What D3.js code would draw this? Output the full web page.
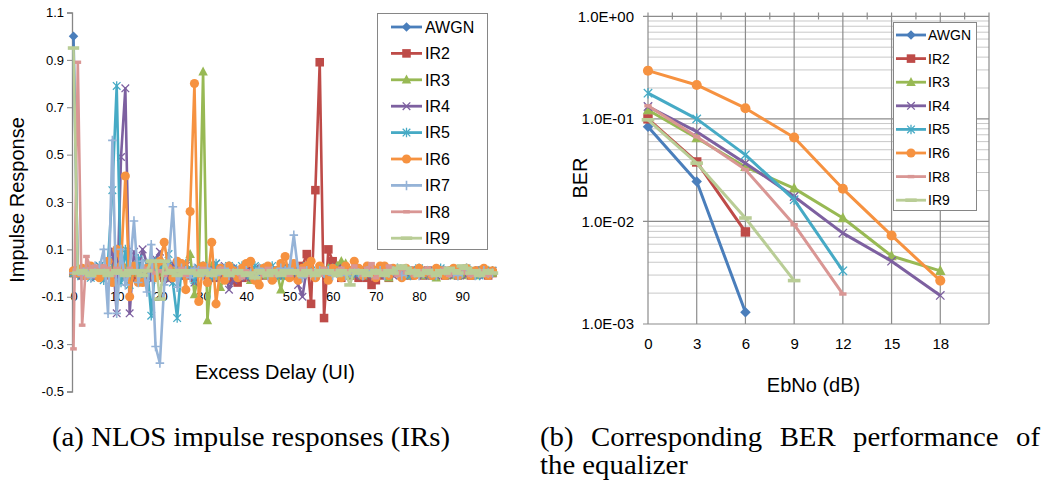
<!DOCTYPE html>
<html><head><meta charset="utf-8">
<script src="https://cdn.jsdelivr.net/npm/d3@7"></script>
<style>body{margin:0;background:#fff} svg{display:block} .sans{font-family:"Liberation Sans",Arial,sans-serif}</style>
</head><body><svg id="c" width="1045" height="483"></svg>
<script>
// ---------- Data: (a) impulse responses ----------
const seriesNames = ["AWGN","IR2","IR3","IR4","IR5","IR6","IR7","IR8","IR9"];
const leftYTicks = [-0.5,-0.3,-0.1,0.1,0.3,0.5,0.7,0.9,1.1];
const leftXTicks = [0,10,20,30,40,50,60,70,80,90];
const irAWGN = [1.0,0,0,0,0,0,0,0,0,0, 0,0,0,0,0,0,0,0,0,0, 0,0,0,0,0,0,0,0,0,0, 0,0,0,0,0,0,0,0,0,0,
  0,0,0,0,0,0,0,0,0,0, 0,0,0,0,0,0,0,0,0,0, 0,0,0,0,0,0,0,0,0,0, 0,0,0,0,0,0,0,0,0,0,
  0,0,0,0,0,0,0,0,0,0, 0,0,0,0,0,0,0,0];
const irIR2 = [0,0.01,-0.01,0.01,0,-0.01,0.01,0,-0.01,0.01,
  -0.02,0.02,-0.01,0.01,-0.02,0.01,0,-0.01,0.02,-0.01,
  0.01,-0.02,0.01,0,-0.01,0.02,-0.01,0.01,-0.02,0.01,
  0,-0.01,0.02,-0.02,0.01,-0.01,0,-0.03,-0.04,-0.02,
  0.01,-0.02,0.01,0,-0.01,0.01,-0.02,0.01,-0.01,0.02,
  -0.01,0.02,-0.02,0.03,0.08,-0.13,0.35,0.89,-0.19,0.10,
  0.05,0.03,-0.02,0.02,-0.01,0.01,-0.02,0.01,-0.02,-0.05,
  -0.03,-0.01,0.01,-0.02,0.01,0,-0.01,0.01,-0.01,0.01,
  0,-0.01,0.01,-0.01,0,0.01,-0.01,0,0.01,-0.01,
  0,0.01,-0.01,0,0.01,0,-0.01,0];
const irIR3 = [0,0.01,0,-0.01,0.01,0,-0.01,0.01,0,0.02,
  -0.01,0.01,0.02,-0.01,0.01,0,-0.02,0.01,0.02,-0.01,
  0.01,0,-0.02,0.01,0.02,0.01,0.03,0.08,-0.09,0.0,
  0.85,-0.20,0.03,0.01,-0.06,-0.02,0.02,0.01,-0.01,0.01,
  0,-0.03,0.01,0.02,-0.01,0,0.02,0.01,-0.07,0.01,
  0.02,0,0.02,-0.01,0.01,0,-0.01,0.01,0,0.02,
  0.01,0.03,0.05,0.04,-0.01,0.01,0,-0.01,0.01,0,
  -0.01,0.01,0,-0.02,0.01,0,0.01,-0.01,0,0.01,
  0,-0.01,0.01,0,-0.02,0.01,0,-0.01,0.01,0,
  -0.01,0.01,0,-0.01,0.01,0,0.01,0];
const irIR4 = [0,0.01,-0.01,0.02,0.01,-0.02,0.03,0.02,0.05,0.10,
  -0.17,0.49,0.78,-0.17,0.09,0.02,0.10,0.04,-0.03,0.06,
  0.09,0.02,-0.03,0.04,0.02,-0.02,0.03,0.01,-0.04,0.02,
  0.01,-0.03,0.02,0.04,-0.02,0.03,-0.07,-0.03,0.02,0.01,
  -0.02,0.01,0.02,-0.01,0.01,0.02,-0.02,0.01,0,0.02,
  -0.01,0.01,-0.05,-0.10,0.02,0.01,-0.01,0.02,0,-0.01,
  0.01,0.02,-0.01,0.01,0,-0.01,0.01,0.02,-0.01,0,
  0.01,-0.01,0,0.01,-0.01,0,0.01,0,-0.01,0.01,
  0,-0.01,0.01,0,-0.01,0.01,0,0.01,-0.01,0,
  0.01,-0.01,0,0.01,0,-0.01,0,0.01];
const irIR5 = [0,-0.01,0.01,0.02,-0.02,0.01,0.03,-0.03,0.05,0.35,
  0.79,-0.04,0.10,-0.05,0.03,0.06,-0.02,0.04,-0.18,0.05,
  0.02,0.03,0.08,-0.04,-0.19,0.02,0.04,0.01,-0.03,0.02,
  0.03,0.01,-0.02,0.04,0.02,-0.01,0.03,0.02,0.01,0.03,
  0.02,-0.01,0.03,0.01,0.02,0,0.03,0.01,-0.01,0.02,
  0.01,0.02,-0.02,0.01,0.03,0.01,-0.01,0.02,0,0.01,
  0.02,0,-0.01,0.02,0.01,0,0.01,-0.01,0.02,0,
  0.01,0.02,0,-0.01,0.01,0.02,0,0.01,-0.01,0.01,
  0.02,0,0.01,-0.01,0.01,0.02,0,0.01,0,-0.01,
  0.01,0.02,0,0.01,-0.01,0.01,0,0.01];
const irIR6 = [0.01,0,0.02,-0.01,0.03,0.01,-0.02,0.02,0.05,-0.04,
  0.10,0.03,0.41,-0.10,0.03,-0.04,-0.04,0.02,0.03,-0.02,
  0.05,0.13,0.02,-0.02,0.05,0.04,-0.07,0.26,0.80,-0.12,
  0.03,-0.04,0.13,-0.13,0.02,-0.03,0.03,0.01,-0.02,0.02,
  0.04,0.05,-0.03,-0.05,0.02,0.03,-0.03,0.01,0.04,0.07,
  -0.02,0.04,-0.03,0.02,0.03,0.05,-0.02,0.03,0.01,-0.03,
  0.02,0.01,-0.02,0.03,0.01,0.05,0.02,-0.01,0.03,0.02,
  -0.02,0.03,0.03,-0.01,0.02,0.01,-0.02,0.02,0.01,-0.01,
  0.02,0,0.01,-0.01,0.02,0.01,-0.01,0.01,0.02,-0.01,
  0.01,0.02,-0.01,0.01,0,0.02,-0.01,0.01];
const irIR7 = [0,0.01,-0.01,0.02,-0.02,0.03,0.02,0.10,-0.17,0.56,
  -0.17,0.10,-0.05,0.01,0.22,-0.04,0.05,-0.08,0.12,-0.31,
  -0.38,-0.05,0.05,0.28,-0.06,0.02,0.01,-0.02,0.02,0.01,
  -0.01,0.02,0,-0.01,0.01,0.02,-0.01,0,0.01,-0.01,
  0.01,0,-0.01,0.02,0,-0.01,0.01,0,0.02,0.01,
  0.02,0.16,0.01,-0.02,0.01,0,-0.01,0.01,0,0.01,
  -0.01,0,0.01,-0.01,0,0.01,0,-0.01,0.01,0,
  0,0.01,-0.01,0,0.01,0,-0.01,0,0.01,0,
  -0.01,0,0.01,0,-0.01,0,0.01,0,0,-0.01,
  0,0.01,0,-0.01,0,0.01,0,0];
const irIR8 = [-0.32,0.89,-0.22,0.07,0.02,0.03,0.01,0.03,0.02,-0.01,
  0.02,0.01,-0.01,0.02,0,0.01,-0.01,0.02,0.01,0,
  0.01,-0.01,0.02,0,0.01,0.02,-0.01,0.01,0,0.01,
  0.02,0,-0.01,0.01,0.02,0,-0.01,0.01,0,-0.02,
  0.01,-0.01,0,0.01,-0.01,0.02,0,-0.01,0.01,0,
  -0.01,0.01,0,0.02,-0.01,0.01,0,-0.01,0.02,0,
  0.01,-0.01,0.02,0,0.01,0.03,0.01,-0.01,0.02,0.04,
  -0.02,0.01,0,0.03,0.01,-0.01,0.02,0,0.01,-0.01,
  0.01,0,0.02,-0.01,0,0.01,0.02,-0.01,0,0.01,
  0.02,0,-0.01,0.01,0,0.01,-0.01,0];
const irIR9 = [0.95,0.0,0.01,0,-0.01,0.01,0,0.01,-0.01,0,
  0.01,0,-0.01,0.01,0,0.01,-0.01,0.01,0.05,0.05,
  -0.11,0.05,0.0,0.01,-0.01,0.01,0,0.01,0,-0.01,
  0.01,0,-0.01,0.01,0,0.01,-0.01,0,0.01,0,
  -0.01,0,-0.02,0.01,0,-0.01,0.01,0,-0.01,0.01,
  0,0.01,0,-0.01,0.01,0,-0.01,0.01,0,0.01,
  0,-0.01,0.01,0,-0.05,0.01,0,0.01,-0.01,0,
  0.01,0,-0.01,0.01,0,0.02,0.03,0.02,0,0.01,
  -0.01,0,0.01,0,-0.01,0.01,0,0.02,0.01,0,
  0.03,0.02,0,0.01,-0.01,0,0.01,0];

// ---------- Data: (b) BER ----------
const ebno = [0,3,6,9,12,15,18];
const berNames = ["AWGN","IR2","IR3","IR4","IR5","IR6","IR8","IR9"];
const berAWGN = [0.084,0.0245,0.0013];
const berIR2 = [0.10,0.038,0.0079];
const berIR3 = [0.122,0.065,0.034,0.021,0.0108,0.0046,0.0033];
const berIR4 = [0.132,0.075,0.037,0.0175,0.0077,0.0041,0.0019];
const berIR5 = [0.178,0.10,0.0446,0.0163,0.0033];
const berIR6 = [0.295,0.214,0.127,0.0658,0.0208,0.0073,0.00265];
const berIR8 = [0.134,0.067,0.032,0.0093,0.00196];
const berIR9 = [0.098,0.037,0.0108,0.00265];
const berYTicks = [1e-3,1e-2,1e-1,1];
const berYLabels = ["1.0E-03","1.0E-02","1.0E-01","1.0E+00"];
const berXTicks = [0,3,6,9,12,15,18];

const captionA = "(a) NLOS impulse responses (IRs)";
const captionB1 = "(b) Corresponding BER performance of";
const captionB2 = "the equalizer";

// ---------- styles ----------
const style = {
  AWGN:{color:"#4A7EBB", marker:"diamond"},
  IR2:{color:"#BE4B48", marker:"square"},
  IR3:{color:"#98B954", marker:"triangle"},
  IR4:{color:"#7D60A0", marker:"x"},
  IR5:{color:"#46AAC5", marker:"star"},
  IR6:{color:"#F69240", marker:"circle"},
  IR7:{color:"#95B3D7", marker:"plus"},
  IR8:{color:"#D99694", marker:"dash"},
  IR9:{color:"#B9CD96", marker:"longdash"}
};
const irData = {AWGN:irAWGN, IR2:irIR2, IR3:irIR3, IR4:irIR4, IR5:irIR5, IR6:irIR6, IR7:irIR7, IR8:irIR8, IR9:irIR9};
const berData = {AWGN:berAWGN, IR2:berIR2, IR3:berIR3, IR4:berIR4, IR5:berIR5, IR6:berIR6, IR8:berIR8, IR9:berIR9};

const svg = d3.select("#c");
const axisGray = "#868686";

function marker(g, type, x, y, c, s) {
  s = s || 1;
  switch (type) {
    case "diamond":
      g.append("path").attr("d", `M${x},${y-5*s}L${x+5*s},${y}L${x},${y+5*s}L${x-5*s},${y}Z`).attr("fill", c); break;
    case "square":
      g.append("rect").attr("x", x-4.5*s).attr("y", y-4.5*s).attr("width", 9*s).attr("height", 9*s).attr("fill", c); break;
    case "triangle":
      g.append("path").attr("d", `M${x},${y-5.5*s}L${x+5*s},${y+4*s}L${x-5*s},${y+4*s}Z`).attr("fill", c); break;
    case "x":
      g.append("path").attr("d", `M${x-4*s},${y-4*s}L${x+4*s},${y+4*s}M${x-4*s},${y+4*s}L${x+4*s},${y-4*s}`).attr("stroke", c).attr("stroke-width", 1.3).attr("fill","none"); break;
    case "star":
      g.append("path").attr("d", `M${x-4*s},${y-4*s}L${x+4*s},${y+4*s}M${x-4*s},${y+4*s}L${x+4*s},${y-4*s}M${x},${y-5*s}L${x},${y+5*s}`).attr("stroke", c).attr("stroke-width", 1.3).attr("fill","none"); break;
    case "circle":
      g.append("circle").attr("cx", x).attr("cy", y).attr("r", 4.8*s).attr("fill", c); break;
    case "plus":
      g.append("path").attr("d", `M${x-4.5*s},${y}L${x+4.5*s},${y}M${x},${y-5*s}L${x},${y+5*s}`).attr("stroke", c).attr("stroke-width", 1.6).attr("fill","none"); break;
    case "dash":
      g.append("rect").attr("x", x-3.5*s).attr("y", y-1.7).attr("width", 7*s).attr("height", 3.4).attr("fill", c); break;
    case "longdash":
      g.append("rect").attr("x", x-6*s).attr("y", y-1.8).attr("width", 12*s).attr("height", 3.6).attr("fill", c); break;
  }
}

// ================= (a) =================
const xL = d3.scaleLinear().domain([0, 97]).range([73.5, 492.5]);
const yL = d3.scaleLinear().domain([-0.5, 1.1]).range([391.5, 12.5]);
const gA = svg.append("g").attr("class", "sans");

gA.append("line").attr("x1", 72).attr("x2", 492.5).attr("y1", yL(0)).attr("y2", yL(0)).attr("stroke", axisGray);
const xAx = gA.append("g").attr("transform", `translate(0,${yL(0)})`)
  .call(d3.axisBottom(xL).tickValues(leftXTicks).tickSize(0).tickPadding(19).tickFormat(d => d));
xAx.select(".domain").remove();
xAx.selectAll("text").attr("font-size", 13).attr("font-family", "Liberation Sans, Arial, sans-serif").attr("fill", "#000");
const yAx = gA.append("g").attr("transform", "translate(72,0)")
  .call(d3.axisLeft(yL).tickValues(leftYTicks).tickSize(5).tickPadding(3).tickFormat(d => d.toFixed(1)));
yAx.select(".domain").attr("stroke", axisGray).attr("stroke-width", 1.3);
yAx.selectAll(".tick line").attr("stroke", axisGray);
yAx.selectAll("text").attr("font-size", 13).attr("font-family", "Liberation Sans, Arial, sans-serif").attr("fill", "#000");

const lineL = d3.line().x((d, i) => xL(i)).y(d => yL(d));
seriesNames.forEach(n => {
  const st = style[n];
  const g = gA.append("g");
  g.append("path").datum(irData[n]).attr("d", lineL).attr("fill", "none").attr("stroke", st.color).attr("stroke-width", 2.6).attr("stroke-linejoin", "round");
  irData[n].forEach((v, i) => marker(g, st.marker, xL(i), yL(v), st.color, 0.95));
});

gA.append("text").attr("transform", "translate(24,200) rotate(-90)").attr("text-anchor", "middle").attr("font-size", 20).text("Impulse Response");
gA.append("text").attr("x", 275).attr("y", 379).attr("text-anchor", "middle").attr("font-size", 20).text("Excess Delay (UI)");

const lgA = gA.append("g");
lgA.append("rect").attr("x", 377.5).attr("y", 13.5).attr("width", 110).attr("height", 236).attr("fill", "#fff").attr("stroke", axisGray);
seriesNames.forEach((n, i) => {
  const y = 27 + i * 26.4, st = style[n];
  lgA.append("line").attr("x1", 391).attr("x2", 422).attr("y1", y).attr("y2", y).attr("stroke", st.color).attr("stroke-width", 2.8);
  marker(lgA, st.marker, 406.5, y, st.color, 0.95);
  lgA.append("text").attr("x", 425).attr("y", y + 5.8).attr("font-size", 16).text(n);
});

// ================= (b) =================
const xR = d3.scaleLinear().domain([0, 21]).range([648, 989]);
const yR = d3.scaleLog().domain([1e-3, 1]).range([324, 16.3]);
const gB = svg.append("g").attr("class", "sans");

const minorVals = [];
[-3, -2, -1].forEach(k => { for (let m = 2; m <= 9; m++) minorVals.push(m * Math.pow(10, k)); });
gB.selectAll(".mh").data(minorVals).enter().append("line")
  .attr("x1", 648).attr("x2", 989).attr("y1", d => yR(d)).attr("y2", d => yR(d))
  .attr("stroke", "#C8C8C8").attr("stroke-width", 1);
gB.selectAll(".Mh").data(berYTicks).enter().append("line")
  .attr("x1", 643).attr("x2", 989).attr("y1", d => yR(d)).attr("y2", d => yR(d))
  .attr("stroke", "#8C8C8C").attr("stroke-width", 1.2);
const vg = d3.range(0, 22, 3);
gB.selectAll(".vg").data(vg).enter().append("line")
  .attr("x1", d => xR(d)).attr("x2", d => xR(d)).attr("y1", 12.5).attr("y2", 324)
  .attr("stroke", "#8C8C8C").attr("stroke-width", 1.2);
gB.selectAll(".mt").data(d3.range(1.5, 21, 3)).enter().append("line")
  .attr("x1", d => xR(d)).attr("x2", d => xR(d)).attr("y1", 12.5).attr("y2", 19.5)
  .attr("stroke", "#8C8C8C").attr("stroke-width", 1.2);
gB.selectAll(".yl").data(berYTicks).enter().append("text")
  .attr("x", 634).attr("y", d => yR(d) + 5.3).attr("text-anchor", "end").attr("font-size", 15)
  .text((d, i) => berYLabels[i]);
const xAxR = gB.append("g").attr("transform", "translate(0,324)")
  .call(d3.axisBottom(xR).tickValues(berXTicks).tickSize(0).tickPadding(14).tickFormat(d => d));
xAxR.select(".domain").remove();
xAxR.selectAll("text").attr("font-size", 15).attr("font-family", "Liberation Sans, Arial, sans-serif").attr("fill", "#000");

const lineR = d3.line().x((d, i) => xR(ebno[i])).y(d => yR(d));
berNames.forEach(n => {
  const st = style[n];
  const g = gB.append("g");
  g.append("path").datum(berData[n]).attr("d", lineR).attr("fill", "none").attr("stroke", st.color).attr("stroke-width", 3).attr("stroke-linejoin", "round");
  berData[n].forEach((v, i) => marker(g, st.marker, xR(ebno[i]), yR(v), st.color, 1.05));
});

gB.append("text").attr("transform", "translate(587,178) rotate(-90)").attr("text-anchor", "middle").attr("font-size", 20).text("BER");
gB.append("text").attr("x", 813.5).attr("y", 392).attr("text-anchor", "middle").attr("font-size", 20).text("EbNo (dB)");

const lgB = gB.append("g");
lgB.append("rect").attr("x", 893.5).attr("y", 22.5).attr("width", 83).attr("height", 188).attr("fill", "#fff").attr("stroke", axisGray);
berNames.forEach((n, i) => {
  const y = 35 + i * 23.6, st = style[n];
  lgB.append("line").attr("x1", 896).attr("x2", 926).attr("y1", y).attr("y2", y).attr("stroke", st.color).attr("stroke-width", 2.8);
  marker(lgB, st.marker, 911, y, st.color, 0.95);
  lgB.append("text").attr("x", 928).attr("y", y + 5).attr("font-size", 14).text(n);
});

// ================= captions =================
const cap = svg.append("g").attr("font-family", "Liberation Serif, Times New Roman, serif").attr("font-size", 27);
const capA = cap.append("text").attr("x", 52).attr("y", 446).text(captionA);
const natA = capA.node().getComputedTextLength();
const sx = 398 / natA;
capA.attr("textLength", 398).attr("lengthAdjust", "spacingAndGlyphs");
(function () {
  const words = captionB1.split(" ");
  const temp = words.map(w => cap.append("text").attr("x", 0).attr("y", 446).text(w));
  const widths = temp.map(t => t.node().getComputedTextLength() * sx);
  const gap = (500 - d3.sum(widths)) / (words.length - 1);
  let x = 540;
  temp.forEach((t, i) => {
    t.attr("x", x).attr("textLength", widths[i]).attr("lengthAdjust", "spacingAndGlyphs");
    x += widths[i] + gap;
  });
})();
const l2 = cap.append("text").attr("x", 540).attr("y", 474).text(captionB2);
l2.attr("textLength", l2.node().getComputedTextLength() * sx).attr("lengthAdjust", "spacingAndGlyphs");
</script></body></html>
